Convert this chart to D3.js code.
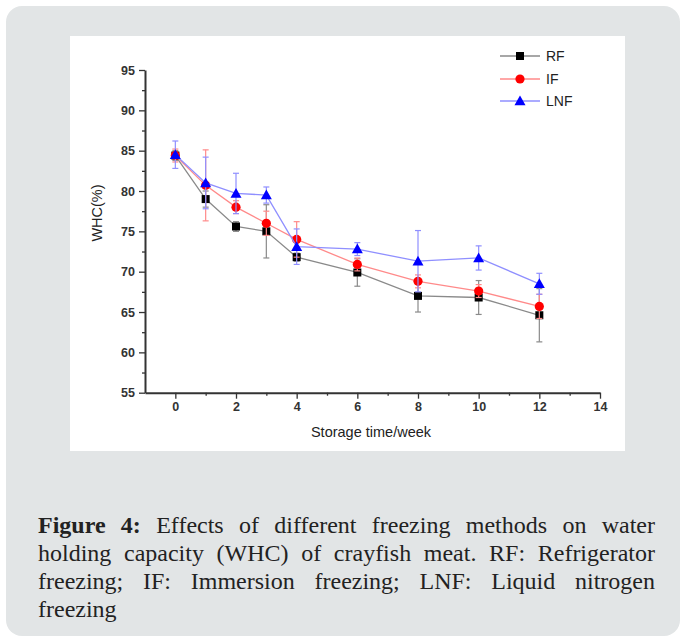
<!DOCTYPE html>
<html><head><meta charset="utf-8">
<script src="https://cdn.jsdelivr.net/npm/d3@7"></script>
<style>
html,body{margin:0;padding:0;background:#fff;}
#wrap{position:relative;width:685px;height:640px;}
.cap{position:absolute;left:38px;width:617px;font-family:"Liberation Serif","DejaVu Serif",serif;font-size:24px;color:#222;text-align:justify;text-align-last:justify;white-space:nowrap;line-height:28px;}
.cap.last{text-align-last:left;}
</style></head>
<body><div id="wrap"><svg id="svg" width="685" height="640"></svg></div>
<script>
const weeks = [0, 1, 2, 3, 4, 6, 8, 10, 12];
const rfValues = [84.4, 79.0, 75.6, 75.0, 71.8, 69.9, 67.0, 66.8, 64.6];
const rfErrors = [0.6, 1.0, 0.6, 3.3, 0.5, 1.7, 2.0, 2.1, 3.3];
const ifValues = [84.4, 80.7, 78.0, 76.0, 74.0, 70.9, 68.8, 67.6, 65.7];
const ifErrors = [0.8, 4.4, 0.8, 1.5, 2.2, 0.8, 0.8, 0.8, 1.5];
const lnfValues = [84.5, 81.0, 79.7, 79.5, 73.1, 72.8, 71.3, 71.7, 68.5];
const lnfErrors = [1.7, 3.2, 2.5, 1.0, 2.2, 0.8, 3.8, 1.5, 1.3];
const seriesNames = ["RF", "IF", "LNF"];
const xTicks = [0, 2, 4, 6, 8, 10, 12, 14];
const xMinorTicks = [1, 3, 5, 7, 9, 11, 13];
const yTicks = [55, 60, 65, 70, 75, 80, 85, 90, 95];
const yMinorTicks = [57.5, 62.5, 67.5, 72.5, 77.5, 82.5, 87.5, 92.5];
const xTitle = "Storage time/week";
const yTitle = "WHC(%)";
const captionLines = [
  ["Figure 4:", " Effects of different freezing methods on water"],
  ["", "holding capacity (WHC) of crayfish meat. RF: Refrigerator"],
  ["", "freezing; IF: Immersion freezing; LNF: Liquid nitrogen"],
  ["", "freezing"]
];

const svg = d3.select("#svg");
svg.append("rect").attr("x",6).attr("y",6).attr("width",674).attr("height",630)
  .attr("rx",16).attr("fill","#e2e5e6");
svg.append("rect").attr("x",70).attr("y",36).attr("width",555).attr("height",415).attr("fill","#fff");

const x = d3.scaleLinear().domain([-1,14]).range([145,600]);
const y = d3.scaleLinear().domain([55,95]).range([392.7,70]);

const axisCol = "#333";
const font = "Liberation Sans, Arial, sans-serif";

const gx = svg.append("g").attr("transform","translate(0,392.7)");
gx.call(d3.axisBottom(x).tickValues(xTicks).tickSize(6).tickSizeOuter(0).tickPadding(3));
gx.append("g").call(d3.axisBottom(x).tickValues(xMinorTicks).tickSize(3).tickFormat("")).select(".domain").remove();
gx.selectAll("line").attr("stroke",axisCol).attr("stroke-width",1.3);
gx.select(".domain").attr("stroke",axisCol).attr("stroke-width",2);
gx.selectAll("text").attr("font-family",font).attr("font-size",12.5).attr("fill","#333").attr("font-weight","bold");

const gy = svg.append("g").attr("transform","translate(145,0)");
gy.call(d3.axisLeft(y).tickValues(yTicks).tickSize(6).tickSizeOuter(0).tickPadding(4));
gy.append("g").call(d3.axisLeft(y).tickValues(yMinorTicks).tickSize(3).tickFormat("")).select(".domain").remove();
gy.selectAll("line").attr("stroke",axisCol).attr("stroke-width",1.3);
gy.select(".domain").attr("stroke",axisCol).attr("stroke-width",2);
gy.selectAll("text").attr("font-family",font).attr("font-size",12.5).attr("fill","#333").attr("font-weight","bold");

svg.append("text").attr("x",371).attr("y",437).attr("text-anchor","middle")
  .attr("font-family",font).attr("font-size",14.5).attr("fill","#222").text(xTitle);
svg.append("text").attr("transform","translate(102,213) rotate(-90)").attr("text-anchor","middle")
  .attr("font-family",font).attr("font-size",14.5).attr("fill","#222").text(yTitle);

const series = [
  {name:seriesNames[0], vals:rfValues, errs:rfErrors, line:"#8a8a8a", mark:"#000", shape:"square"},
  {name:seriesNames[1], vals:ifValues, errs:ifErrors, line:"#ff8a8a", mark:"#f00", shape:"circle"},
  {name:seriesNames[2], vals:lnfValues, errs:lnfErrors, line:"#8f8fff", mark:"#00f", shape:"triangle"}
];

function drawMarker(g, shape, cx, cy, color){
  if(shape==="square") g.append("rect").attr("x",cx-4).attr("y",cy-4).attr("width",8).attr("height",8).attr("fill",color);
  else if(shape==="circle") g.append("circle").attr("cx",cx).attr("cy",cy).attr("r",4.6).attr("fill",color);
  else g.append("path").attr("d",`M${cx},${cy-5.5}L${cx+5.5},${cy+4.2}L${cx-5.5},${cy+4.2}Z`).attr("fill",color);
}

const line = d3.line().x(d=>x(d[0])).y(d=>y(d[1]));
series.forEach(s=>{
  const g = svg.append("g");
  const pts = weeks.map((w,i)=>[w,s.vals[i],s.errs[i]]);
  pts.forEach(p=>{
    const cx = x(p[0]), y1 = y(p[1]+p[2]), y2 = y(p[1]-p[2]);
    g.append("line").attr("x1",cx).attr("x2",cx).attr("y1",y1).attr("y2",y2).attr("stroke",s.line).attr("stroke-width",1.2);
    g.append("line").attr("x1",cx-3).attr("x2",cx+3).attr("y1",y1).attr("y2",y1).attr("stroke",s.line).attr("stroke-width",1.2);
    g.append("line").attr("x1",cx-3).attr("x2",cx+3).attr("y1",y2).attr("y2",y2).attr("stroke",s.line).attr("stroke-width",1.2);
  });
  g.append("path").attr("d",line(pts)).attr("fill","none").attr("stroke",s.line).attr("stroke-width",1.3);
  pts.forEach(p=>drawMarker(g,s.shape,x(p[0]),y(p[1]),s.mark));
});

const legY = [56, 79, 101];
series.forEach((s,i)=>{
  const g = svg.append("g");
  g.append("line").attr("x1",500).attr("x2",540).attr("y1",legY[i]).attr("y2",legY[i]).attr("stroke",s.line).attr("stroke-width",1.3);
  drawMarker(g,s.shape,520,legY[i],s.mark);
  g.append("text").attr("x",546).attr("y",legY[i]+5).attr("font-family",font).attr("font-size",14).attr("fill","#222").text(s.name);
});

const wrap = d3.select("#wrap");
captionLines.forEach((ln,i)=>{
  const d = wrap.append("div").attr("class","cap"+(i===captionLines.length-1?" last":""))
    .style("top",(511+i*28)+"px");
  if(ln[0]) d.append("b").text(ln[0]);
  d.append("span").text(ln[1]);
});
</script></body></html>
